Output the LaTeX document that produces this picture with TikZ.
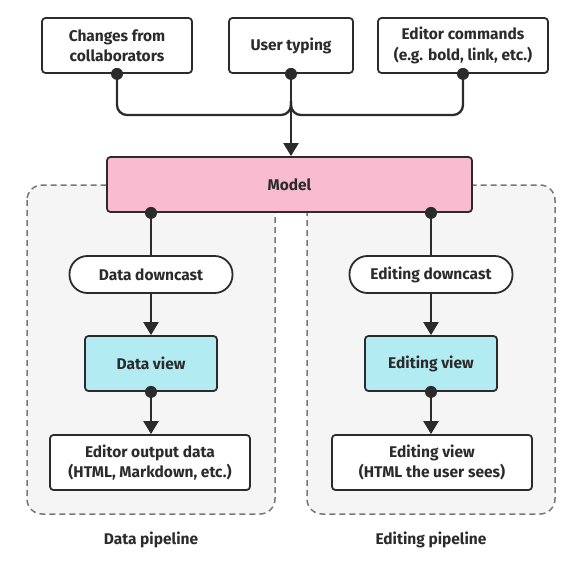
\documentclass[tikz,border=0pt]{standalone}
\usepackage{fontspec}
\setmainfont{Fira Sans}
\usetikzlibrary{arrows.meta}
\definecolor{ln}{HTML}{2B2B2B}
\definecolor{pinkfill}{HTML}{F8BBD0}
\definecolor{cyanfill}{HTML}{B2EBF2}
\definecolor{grpfill}{HTML}{F5F5F5}
\definecolor{grpline}{HTML}{777777}
\begin{document}
\begin{tikzpicture}[x=1pt,y=-1pt,
  lbl/.style={font=\fontsize{15.5}{20.5}\selectfont\bfseries, text=ln, align=center},
  box/.style={lbl, draw=ln, line width=1.8pt, fill=white, rounded corners=3.5pt, inner sep=0pt, minimum height=55pt},
  pill/.style={box, rounded corners=18pt, minimum height=37pt},
  grp/.style={draw=grpline, fill=grpfill, line width=1.5pt, dash pattern=on 6pt off 4pt, rounded corners=15pt},
  conn/.style={draw=ln, line width=2.3pt},
  arr/.style={conn, -{Triangle[length=13pt,width=15pt]}},
  dot/.style={fill=ln}
]
\useasboundingbox (0,0) rectangle (582,562);
% pipeline groups
\draw[grp] (27,185) rectangle (275,514);
\draw[grp] (307,185) rectangle (555,514);
% top inputs
\node[box, minimum width=150pt] (collab) at (117,45.5) {Changes from\\collaborators};
\node[box, minimum width=124pt] (typing) at (291,45.5) {User typing};
\node[box, minimum width=170pt] (cmds) at (463,45.5) {Editor commands\\(e.g. bold, link, etc.)};
% model
\node[box, fill=pinkfill, minimum width=365pt] (model) at (289.5,184.5) {Model};
% left pipeline
\node[pill, minimum width=163pt] (ddown) at (151,274.5) {Data downcast};
\node[box, fill=cyanfill, minimum width=132pt] (dview) at (151,363.5) {Data view};
\node[box, minimum width=200pt] (dout) at (150,462.5) {Editor output data\\(HTML, Markdown, etc.)};
% right pipeline
\node[pill, minimum width=163pt] (edown) at (431,274.5) {Editing downcast};
\node[box, fill=cyanfill, minimum width=132pt] (eview) at (431,363.5) {Editing view};
\node[box, minimum width=200pt] (eout) at (432,462.5) {Editing view\\(HTML the user sees)};
% labels
\node[lbl] (dlabel) at (151,540) {Data pipeline};
\node[lbl] (elabel) at (431,540) {Editing pipeline};
% merge coordinate
\coordinate (merge) at (typing.south |- 0,115);
% connectors to model
\draw[conn, rounded corners=10pt] (collab.south) |- (merge) -- ([yshift=14pt]merge);
\draw[conn, rounded corners=10pt] (cmds.south) |- (merge) -- ([yshift=14pt]merge);
\draw[arr] (typing.south) -- (typing.south |- model.north);
\fill[dot] (collab.south) circle (6pt);
\fill[dot] (typing.south) circle (6pt);
\fill[dot] (cmds.south) circle (6pt);
% left pipeline connectors
\draw[conn] (model.south -| ddown.north) -- (ddown.north);
\fill[dot] (model.south -| ddown.north) circle (6pt);
\draw[arr] (ddown.south) -- (dview.north);
\draw[arr] (dview.south) -- (dview.south |- dout.north);
\fill[dot] (dview.south) circle (6pt);
% right pipeline connectors
\draw[conn] (model.south -| edown.north) -- (edown.north);
\fill[dot] (model.south -| edown.north) circle (6pt);
\draw[arr] (edown.south) -- (eview.north);
\draw[arr] (eview.south) -- (eview.south |- eout.north);
\fill[dot] (eview.south) circle (6pt);
\end{tikzpicture}
\end{document}
